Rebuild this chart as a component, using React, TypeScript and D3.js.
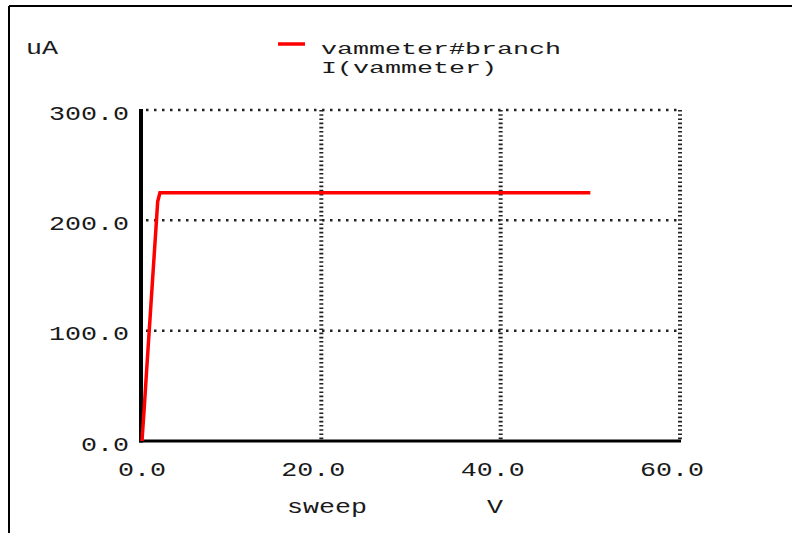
import React from "react";
import * as d3 from "d3";

const sweepV = [0, 0.25, 0.5, 0.75, 1.0, 1.25, 1.5, 1.75, 2.0, 10, 20, 30, 40, 50];
const currentUA = [0, 30, 62, 93, 124, 155, 186, 217, 225, 225, 225, 225, 225, 225];
const xTicks = [0, 20, 40, 60];
const yTicks = [0, 100, 200, 300];
const legendLines = ["vammeter#branch", "I(vammeter)"];
const yUnit = "uA";
const xName = "sweep";
const xUnit = "V";

const W = 792;
const H = 533;
const CELL = 16;
const FONT = "'Liberation Mono', 'DejaVu Sans Mono', monospace";

function MonoText(props: {
  x: number;
  y: number;
  text: string;
  anchor?: string;
  size?: number;
  fill?: string;
}) {
  const { x, y, text, anchor = "start", size = 20, fill = "#1a1a1a" } = props;
  return (
    <text
      x={x}
      y={y}
      textAnchor={anchor}
      fontFamily={FONT}
      fontSize={size}
      fill={fill}
      textLength={text.length * CELL}
      lengthAdjust="spacingAndGlyphs"
    >
      {text}
    </text>
  );
}

export default function App() {
  const x = d3.scaleLinear().domain([0, 60]).range([142, 680]);
  const y = d3.scaleLinear().domain([0, 300]).range([441, 110]);
  const pts: [number, number][] = sweepV.map((v, i) => [v, currentUA[i]]);
  const line = d3
    .line<[number, number]>()
    .x((d) => x(d[0]))
    .y((d) => y(d[1]));

  const fmt = (v: number) => v.toFixed(1);

  return (
    <svg
      width={W}
      height={H}
      style={{ position: "absolute", left: 0, top: 0, background: "#fff" }}
    >
      <rect x={0} y={0} width={W} height={H} fill="#fff" />
      {/* outer frame */}
      <line x1={9} y1={6} x2={W} y2={6} stroke="#000" strokeWidth={2} />
      <line x1={9} y1={6} x2={9} y2={H} stroke="#000" strokeWidth={2} />

      {/* horizontal grid (dotted) */}
      {yTicks
        .filter((t) => t > 0)
        .map((t) => (
          <line
            key={"hg" + t}
            x1={x(0) + 4}
            x2={x(60)}
            y1={y(t)}
            y2={y(t)}
            stroke="#222"
            strokeWidth={2.5}
            strokeDasharray="2.5,5.5"
          />
        ))}
      {/* vertical grid (dotted) */}
      {xTicks
        .filter((t) => t > 0)
        .map((t) => (
          <line
            key={"vg" + t}
            x1={x(t)}
            x2={x(t)}
            y1={y(300)}
            y2={y(0)}
            stroke="#222"
            strokeWidth={4}
            strokeDasharray="1.6,2.6"
          />
        ))}

      {/* axes */}
      <line x1={x(0) - 1} x2={x(0) - 1} y1={y(300) - 1} y2={y(0) + 1.5} stroke="#000" strokeWidth={4} />
      <line x1={x(0) - 3} x2={x(60) + 1} y1={y(0)} y2={y(0)} stroke="#000" strokeWidth={3} />

      {/* data */}
      <path d={line(pts) || ""} fill="none" stroke="#ff0000" strokeWidth={3.5} strokeLinejoin="miter" />

      {/* y tick labels */}
      {yTicks.map((t) => (
        <MonoText key={"yl" + t} x={129} y={y(t) + 9.5} text={fmt(t)} anchor="end" size={21} />
      ))}
      {/* x tick labels, decimal point aligned to tick */}
      {xTicks.map((t) => {
        const s = fmt(t);
        const intDigits = s.indexOf(".");
        return (
          <MonoText
            key={"xl" + t}
            x={x(t) - (intDigits + 0.5) * CELL}
            y={476}
            text={s}
            size={21}
          />
        );
      })}

      {/* unit labels */}
      <MonoText x={26} y={54} text={yUnit} size={20} />
      <MonoText x={287} y={513} text={xName} size={20} />
      <MonoText x={487} y={513} text={xUnit} size={20} />

      {/* legend */}
      <line x1={278} x2={305} y1={44} y2={44} stroke="#ff0000" strokeWidth={3.5} />
      {legendLines.map((s, i) => (
        <MonoText key={"lg" + i} x={321} y={54 + i * 19} text={s} size={16.5} />
      ))}
    </svg>
  );
}
